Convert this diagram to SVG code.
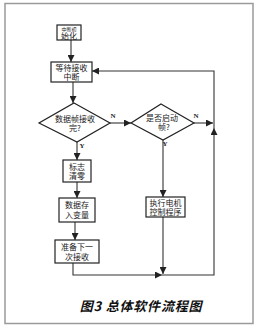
<svg xmlns="http://www.w3.org/2000/svg" width="260" height="329" viewBox="0 0 260 329">
<style>
.n{fill:#fff;stroke:#222;stroke-width:1.2}
.t{font-family:"Noto Sans CJK SC","Liberation Sans",sans-serif;font-size:8px;fill:#1a1a1a;text-anchor:middle}
.l{font-family:"Liberation Serif",serif;font-size:7px;fill:#222;text-anchor:middle;font-weight:bold}
.c{fill:none;stroke:#333;stroke-width:1.1}
</style>
<defs>
<marker id="a" viewBox="0 0 10 10" refX="10" refY="5" markerWidth="7" markerHeight="7" orient="auto" markerUnits="userSpaceOnUse"><path d="M0,0L10,5L0,10z" fill="#222"/></marker>
</defs>
<rect x="0" y="0" width="260" height="329" fill="#fff"/>
<rect x="5" y="3.5" width="248" height="320" fill="none" stroke="#9a9a9a" stroke-width="1.5"/>
<g id="connectors">
<path class="c" d="M71,40V62" marker-end="url(#a)"/>
<path class="c" d="M73,82V103" marker-end="url(#a)"/>
<path class="c" d="M110,123H131" marker-end="url(#a)"/>
<path class="c" d="M194,123H213" marker-end="url(#a)"/>
<path class="c" d="M77,142V160" marker-end="url(#a)"/>
<path class="c" d="M77,182V198" marker-end="url(#a)"/>
<path class="c" d="M75,222V240" marker-end="url(#a)"/>
<path class="c" d="M163,140V197" marker-end="url(#a)"/>
<path class="c" d="M163,217V274" marker-end="url(#a)"/>
<path class="c" d="M73,263V275H162" marker-end="url(#a)"/>
<path class="c" d="M162,275H214V128" marker-end="url(#a)"/>
<path class="c" d="M214,128V71H92" marker-end="url(#a)"/>
<text class="l" x="113" y="118">N</text>
<text class="l" x="196" y="118">N</text>
<text class="l" x="82" y="148">Y</text>
<text class="l" x="165" y="146">Y</text>
</g>
<g id="init">
<rect class="n" x="57" y="25" width="24" height="15"/>
<text class="t"><tspan x="69" y="30.5" style="font-size:5px">中断初</tspan><tspan x="69" y="38.5">始化</tspan></text>
</g>
<g id="wait">
<rect class="n" x="51" y="62" width="41" height="20"/>
<text class="t"><tspan x="71.5" y="71">等待接收</tspan><tspan x="71.5" y="80">中断</tspan></text>
</g>
<g id="d1">
<polygon class="n" points="74,103 110,123 77,142 39,123"/>
<text class="t"><tspan x="75" y="122">数据帧接收</tspan><tspan x="75" y="131">完?</tspan></text>
</g>
<g id="d2">
<polygon class="n" points="161,104 194,123 163,140 131,123"/>
<text class="t"><tspan x="162" y="121">是否启动</tspan><tspan x="164" y="130">帧?</tspan></text>
</g>
<g id="clear">
<rect class="n" x="63" y="160" width="28" height="22"/>
<text class="t"><tspan x="77" y="169.5">标志</tspan><tspan x="77" y="179">清零</tspan></text>
</g>
<g id="store">
<rect class="n" x="59" y="198" width="36" height="24"/>
<text class="t"><tspan x="77" y="208">数据存</tspan><tspan x="77" y="218">入变量</tspan></text>
</g>
<g id="next">
<rect class="n" x="55" y="240" width="44" height="23"/>
<text class="t"><tspan x="77" y="249.5">准备下一</tspan><tspan x="77" y="259.5">次接收</tspan></text>
</g>
<g id="exec">
<rect class="n" x="146" y="197" width="39" height="20"/>
<text class="t"><tspan x="165.5" y="205.5">执行电机</tspan><tspan x="165.5" y="214.5">控制程序</tspan></text>
</g>
<text x="141" y="311" style="font-family:'Noto Sans CJK SC',sans-serif;font-size:13px;font-weight:bold;font-style:italic;fill:#111;text-anchor:middle;letter-spacing:0.8px">图3  总体软件流程图</text>
</svg>
